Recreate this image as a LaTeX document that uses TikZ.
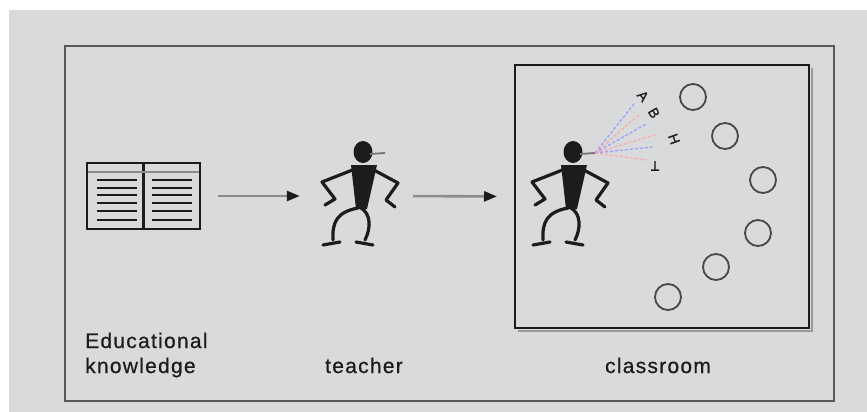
\documentclass[tikz,border=0pt]{standalone}
\usepackage{fontspec}
\setmainfont{Liberation Sans}[LetterSpace=6]
\newfontfamily\labelfont{Liberation Sans}[LetterSpace=6,FakeBold=0.6]
\usetikzlibrary{arrows.meta}
\definecolor{scan}{RGB}{216,218,220}
\definecolor{ink}{RGB}{28,28,30}
\tikzset{
  limb/.style={ink,line width=3.2pt,line cap=round,line join=round},
  flow/.style={black!45,line width=2.6pt,-{Triangle[length=13pt,width=10pt,color=ink]}},
  sound/.style={font=\labelfont\fontsize{14}{16}\selectfont,inner sep=0pt,text=ink},
  caption/.style={text=ink,font=\labelfont\fontsize{21}{25}\selectfont,inner sep=0pt},
  teacher/.pic={
    \fill[ink] (0,0) ellipse [x radius=9.5pt,y radius=11pt];
    \draw[black!55,line width=1.8pt] (7,2) -- (22,1);
    \coordinate (-mouth) at (22,1);
    \fill[ink] (-12,13) -- (14,13) -- (4,57) -- (-7,57) -- cycle;
    \draw[limb] (-8,17) -- (-41,30) -- (-28,47) -- (-38,53);
    \draw[limb] (9,17) -- (35,31) -- (23,48) -- (32,55);
    \draw[limb] (-5,56) .. controls (-26,60) and (-31,70) .. (-30,88);
    \draw[limb] (-2,56) .. controls (8,62) and (8,76) .. (2,88);
    \draw[limb] (-40,93) -- (-23,90);
    \draw[limb] (-7,90) -- (10,93);
    \node[minimum width=76pt,minimum height=110pt,inner sep=0pt] (-fig) at (-3,44) {};
  }
}

\begin{document}
\begin{tikzpicture}[x=1pt,y=-1pt]
\useasboundingbox (0,0) rectangle (867,412);
\fill[white] (0,0) rectangle (867,412);
\fill[scan] (9,10) rectangle (867,412);
\draw[black!65,line width=2pt] (65,46) rectangle (834,401);

% book of knowledge
\node[draw=ink,line width=2.5pt,minimum width=113pt,minimum height=66pt,inner sep=0pt] (book) at (143.5,196) {};
\draw[ink,line width=2.5pt] (book.north) -- (book.south);
\draw[black!45,line width=1.5pt] (88,172) -- (199,172);
\foreach \y in {180,188,195,203,211,220} {
  \draw[ink,line width=2.6pt] (97,\y) -- (137,\y);
  \draw[ink,line width=2.6pt] (152,\y) -- (192,\y);
}

\pic (T1) at (363,152) {teacher};

% classroom
\draw[black!40,line width=2.5pt] (518,331) -- (812,331) -- (812,68);
\node[draw=ink,line width=2pt,minimum width=294pt,minimum height=263pt,inner sep=0pt] (room) at (662,196.5) {};
\pic (T2) at (573,152) {teacher};
\foreach \x/\y [count=\n] in {693/97,725/136,763/180,758/233,716/267,668/297}
  \node[draw=black!72,line width=1.8pt,circle,minimum size=26pt,inner sep=0pt] (S\n) at (\x,\y) {};

\foreach \x/\y/\c [count=\n] in {634/104/blue!40,640/114/red!35,646/124/blue!40,658/134/red!35,652/147/blue!40,647/160/red!35}
  \draw[\c,line width=1.2pt,dash pattern=on 3pt off 2pt] (T2-mouth) -- (\x,\y);
\node[sound,rotate=-50] (A) at (643,96) {A};
\node[sound,rotate=-60] (B) at (654,113) {B};
\node[sound,rotate=-70] (H) at (674,139) {H};
\node[sound,rotate=180] (T) at (655,166) {T};

\draw[flow,shorten <=17pt,shorten >=22pt] (book.east) -- (T1-fig.west);
\draw[flow,shorten <=15pt,shorten >=17pt] (T1-fig.east) -- (room.west);

\node[caption,anchor=base west] (edu) at (85,348) {Educational};
\node[caption,anchor=base west] (know) at (85,373) {knowledge};
\node[caption,anchor=base] (lteach) at (364,373) {teacher};
\node[caption,anchor=base] (lroom) at (658,373) {classroom};
\end{tikzpicture}
\end{document}
